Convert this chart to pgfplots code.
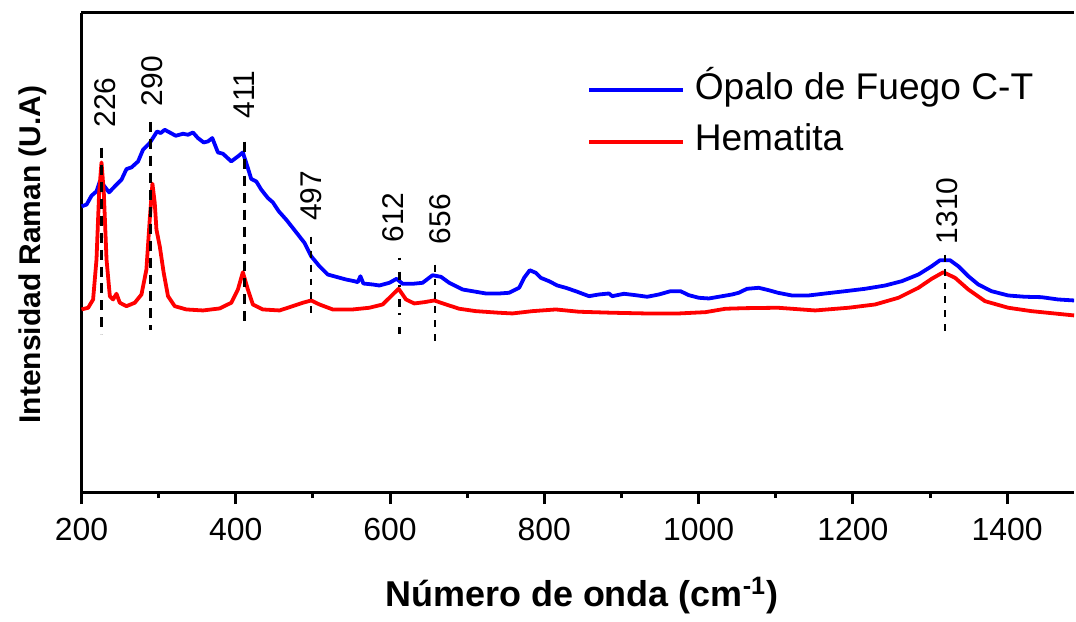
\documentclass[border=0pt]{standalone}
\usepackage{fontspec}
\setmainfont{Liberation Sans}
\usepackage{pgfplots}
\pgfplotsset{compat=1.18}
\begin{document}
\begin{tikzpicture}
\begin{axis}[
  scale only axis, width=497.2pt, height=240pt,
  at={(0pt,0pt)}, anchor=south west,
  xmin=200, xmax=1486.7, ymin=0, ymax=480,
  axis lines*=left, axis line style={-, line width=1.5pt, black},
  clip=false,
  xtick={200,400,...,1400}, minor x tick num=1, ytick=\empty,
  tick align=outside, major tick length=6pt, minor tick length=3pt,
  every tick/.style={black, line width=1.5pt},
  /pgf/number format/assume math mode=true,
  /pgf/number format/1000 sep={},
  ticklabel style={font=\fontsize{16}{19}\selectfont},
  xticklabel style={yshift=-3.5pt},
  xlabel={\textbf{Número de onda (cm\textsuperscript{-1})}},
  xlabel style={at={(axis description cs:0.504,-0.2396)}, anchor=base, font=\fontsize{18}{21}\selectfont},
  ylabel={\textbf{Intensidad Raman (U.A)}},
  ylabel style={at={(axis description cs:-0.0408,0.496)}, anchor=base, rotate=0, font=\fontsize{15}{18}\selectfont},
  legend style={draw=none, fill=none, at={(axis description cs:0.503,0.785)}, anchor=west,
    font=\fontsize{18.6}{21}\selectfont, row sep=7pt,
    nodes={inner sep=2pt, text height=12pt, text depth=3pt},
    /tikz/every odd column/.style={column sep=3pt}},
  legend cell align=left,
  legend image code/.code={\draw[#1] (0pt,0pt) -- (47pt,0pt);},
]
\addplot[blue, line width=1.9pt, line join=round] coordinates {
(200.1,286.3)(206.6,288)(213.1,297)(219.5,301.3)(223.8,311.3)(228.1,308)(235.8,300.3)(243.2,306.3)(251.9,313)(258.4,323.7)(264.8,325.3)(273.4,331.3)(279.8,343)(288.5,349.7)(298.0,361.3)(302.7,359.7)(307.9,363)(314.4,360.3)(322.2,357)(331.6,359)(338.1,358)(344.5,360.3)(351.0,354.7)(358.4,350.3)(363.9,351.3)(369.6,354.7)(376.9,340.3)(383.4,339)(394.2,331.3)(402.8,336.3)(409.2,340.3)(415.7,324.7)(420.1,313.7)(426.6,311.3)(433.1,303)(441.6,294.7)(448.1,290.3)(455.8,281.3)(465.4,273)(473.9,264.7)(489.1,249.7)(497.8,236.3)(508.5,226.3)(519.2,218)(530.1,215.7)(543.0,213)(553.8,211.3)(558.1,210.3)(561.6,216.3)(565.4,209)(577.5,208)(586.1,207)(599.1,209.7)(608.5,213.7)(616.3,208.7)(629.2,208.7)(642.2,209.7)(655.1,217.3)(666.0,215.7)(676.7,209.7)(693.9,203)(706.9,201.3)(724.2,199)(741.4,199)(754.4,199.7)(767.3,204.7)(773.8,214.7)(781.1,222.3)(788.9,219.7)(795.4,214.7)(806.1,211.3)(816.9,207)(827.7,204.7)(840.7,201.3)(857.9,196.3)(870.8,198)(883.8,199)(888.0,196.3)(903.2,198.7)(918.3,197.3)(933.3,195.7)(948.5,198)(963.6,201.3)(976.5,201.3)(987.3,197.3)(1000.2,194.7)(1013.2,194)(1026.1,195.7)(1043.3,198)(1052.0,199.7)(1062.7,203.7)(1077.9,204.7)(1090.8,202.3)(1102.8,199.7)(1120.9,197)(1142.5,197)(1164.2,199)(1190.0,201.3)(1215.9,203.7)(1241.8,207)(1263.3,211.3)(1284.9,218)(1302.1,226.3)(1312.9,232.3)(1325.9,232.3)(1336.6,226.3)(1349.6,216.3)(1362.5,208)(1379.7,201.3)(1401.3,197)(1422.9,195.7)(1444.4,195.3)(1466.0,193)(1486.7,192)
};
\addlegendentry{Ópalo de Fuego C-T}
\addplot[red, line width=1.9pt, line join=round] coordinates {
(200.1,183)(208.7,184.7)(215.1,193)(219.5,233)(222.9,299.7)(226.0,330.3)(229.0,299.7)(232.5,233)(236.8,196.3)(241.0,193)(245.4,198.7)(249.7,189.7)(258.4,186.3)(269.1,189.7)(277.8,198)(284.2,223)(288.5,273)(292.0,309)(295.0,289.7)(297.2,263)(301.5,246.3)(306.6,219.7)(312.2,196.3)(320.9,186.3)(336.0,183)(357.5,182)(379.1,184)(394.2,189.7)(402.8,203)(409.2,220.3)(415.7,203)(422.2,188)(435.1,183)(456.7,182)(473.9,186.3)(486.9,189.7)(497.8,192)(508.5,188)(525.7,183)(551.6,183)(573.2,184.7)(590.4,188)(601.3,196.3)(611.1,203.7)(620.7,193)(631.4,189)(644.4,190.3)(657.3,192)(672.5,188)(689.7,183.7)(711.3,181.3)(741.4,179.7)(758.6,179)(784.5,181.3)(814.8,183)(845.0,180.7)(888.0,179.7)(931.3,179)(974.3,179)(1008.9,180.3)(1034.8,183.7)(1060.7,184.3)(1102.8,184.7)(1151.1,182)(1194.2,184.7)(1228.8,188)(1259.0,194.7)(1284.9,204.7)(1302.1,213.7)(1317.2,220.3)(1332.4,214.7)(1349.6,203)(1371.2,191.3)(1401.3,184.7)(1431.5,181.3)(1486.7,177)
};
\addlegendentry{Hematita}
% peak marker lines
\addplot[black, line width=1.5pt, dash pattern=on 5pt off 3.5pt, forget plot] coordinates {(226,345)(226,158)};
\addplot[black, line width=1.5pt, dash pattern=on 5pt off 3.5pt, forget plot] coordinates {(290,371)(290,162)};
\addplot[black, line width=1.5pt, dash pattern=on 5pt off 3.5pt, forget plot] coordinates {(411,351)(411,168)};
\addplot[black, line width=1pt, dash pattern=on 3.5pt off 3.5pt, forget plot] coordinates {(498,256)(498,178)};
\addplot[black, line width=1.2pt, dash pattern=on 1pt off 6pt on 4pt off 3pt, forget plot] coordinates {(612,235)(612,158)};
\addplot[black, line width=1pt, dash pattern=on 3.5pt off 3.5pt, forget plot] coordinates {(658,228)(658,151)};
\addplot[black, line width=1pt, dash pattern=on 3.5pt off 3.5pt, forget plot] coordinates {(1319.5,238)(1319.5,160)};
% peak labels
\begin{scope}[every node/.style={rotate=90, anchor=west, inner sep=0pt, font=\fontsize{15}{18}\selectfont}]
\node at (axis cs:231.3,365) {226};
\node at (axis cs:291.7,386.3) {290};
\node at (axis cs:410.4,374) {411};
\node at (axis cs:497.7,271.3) {497};
\node at (axis cs:604.5,249.7) {612};
\node at (axis cs:665.5,248) {656};
\node at (axis cs:1322.7,248) {1310};
\end{scope}
\draw[line width=1.5pt, black] (rel axis cs:0,1) -- (rel axis cs:1,1);
\end{axis}
\path (-40.8pt,-59pt) rectangle (497.2pt,246.5pt);
\end{tikzpicture}
\end{document}
